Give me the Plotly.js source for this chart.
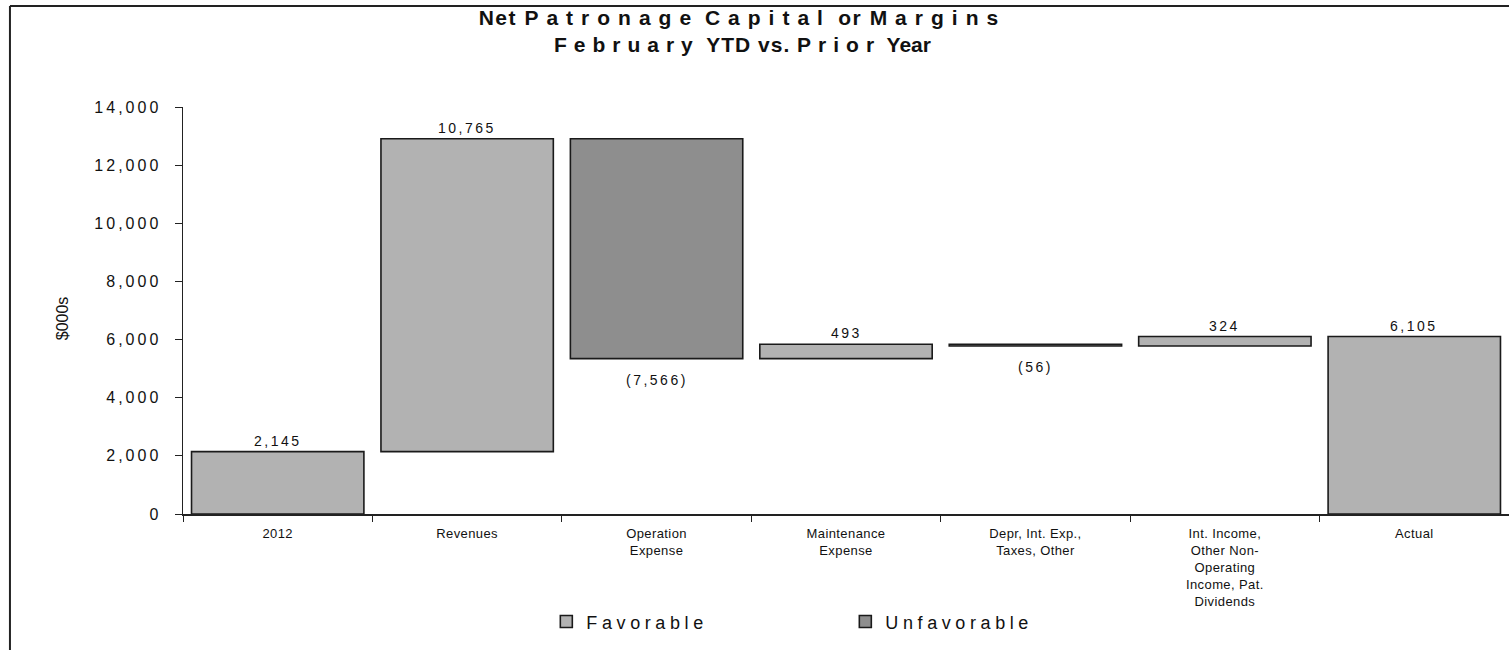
<!DOCTYPE html>
<html><head><meta charset="utf-8">
<script src="https://cdn.plot.ly/plotly-3.0.1.min.js"></script>
<style>
html,body{margin:0;padding:0;background:#fff}
#chart{width:1509px;height:650px}
.ytick text{letter-spacing:3px}
.xtick text{letter-spacing:0.4px}
.legendtext{letter-spacing:4.6px}
</style></head><body><div id="chart"></div>
<script>
// ---- data ----
const categories = ['2012', 'Revenues', 'Operation<br>Expense', 'Maintenance<br>Expense',
  'Depr, Int. Exp.,<br>Taxes, Other', 'Int. Income,<br>Other Non-<br>Operating<br>Income, Pat.<br>Dividends', 'Actual'];
const values = [2145, 10765, -7566, 493, -56, 324, 6105];
const isTotal = [true, false, false, false, false, false, true];
const seriesNames = ['Favorable', 'Unfavorable'];

// ---- build waterfall pieces ----
function fmt(v) {
  const s = Math.abs(v).toLocaleString('en-US');
  return v < 0 ? '(' + s + ')' : s;
}
let running = 0;
const bases = [], ends = [];
values.forEach((v, i) => {
  if (isTotal[i]) { bases.push(0); ends.push(v); running = v; }
  else { bases.push(running); running += v; ends.push(running); }
});
const fav = {x: [], y: [], base: []}, unf = {x: [], y: [], base: []};
values.forEach((v, i) => {
  const t = v >= 0 ? fav : unf;
  t.x.push(categories[i]); t.y.push(v); t.base.push(bases[i]);
});

const FONT = 'Liberation Sans, Arial, sans-serif';
const lineStyle = {color: '#1a1a1a', width: 1.6};
const traces = [
  {type: 'bar', name: seriesNames[0], x: fav.x, y: fav.y, base: fav.base, width: 0.91,
   marker: {color: '#b2b2b2', line: lineStyle}, hoverinfo: 'skip'},
  {type: 'bar', name: seriesNames[1], x: unf.x, y: unf.y, base: unf.base, width: 0.91,
   marker: {color: '#8e8e8e', line: lineStyle}, hoverinfo: 'skip'}
];

// data labels: x given as category index so '2012' is not read as a number
const annotations = values.map((v, i) => ({
  x: i, y: ends[i], xref: 'x', yref: 'y',
  text: '<span style="letter-spacing:2.5px">' + fmt(v) + '</span>',
  showarrow: false, yanchor: v >= 0 ? 'bottom' : 'top', yshift: v >= 0 ? 1 : -11,
  font: {family: FONT, size: 14, color: '#111'}
}));
annotations.push({
  text: '$000s', xref: 'paper', yref: 'paper', x: -0.0913, y: 0.482, xshift: -10, showarrow: false,
  textangle: -90, font: {family: 'Liberation Sans Narrow, Arial Narrow, ' + FONT, size: 16, color: '#111'}
});

const sp = (t, s) => '<span style="letter-spacing:' + s + 'px">' + t + '</span>';
const layout = {
  width: 1509, height: 650,
  paper_bgcolor: '#fff', plot_bgcolor: '#fff',
  margin: {l: 183, r: 0, t: 107, b: 136},
  font: {family: FONT, color: '#111'},
  title: {
    text: '<b>' + sp('Net ', 1.5) + sp('Patronage', 8) + ' ' + sp('Capital', 8) + sp(' or ', 1.5) + sp('Margins', 8) + '</b><br>' +
          '<b>' + sp('February', 7) + sp(' YTD vs. ', 1) + sp('Prior', 7) + ' Year</b>',
    xref: 'container', yref: 'container', x: 0.492, xanchor: 'center', y: 0.962, yanchor: 'top',
    font: {family: FONT, size: 21, color: '#111'}
  },
  barmode: 'overlay',
  showlegend: true,
  legend: {orientation: 'h', x: 0.274, xanchor: 'left', y: -0.265, yanchor: 'middle',
           font: {family: FONT, size: 18, color: '#111'}, entrywidth: 254, traceorder: 'normal'},
  xaxis: {type: 'category', categoryorder: 'array', categoryarray: categories,
          range: [-0.5, 6.5], tickson: 'boundaries', ticks: 'outside', ticklen: 6,
          tickcolor: '#222', showline: true, linecolor: '#222', linewidth: 1.5, showgrid: false,
          zeroline: false, tickfont: {family: FONT, size: 13, color: '#111'}, ticklabelstandoff: 7,
          automargin: false, fixedrange: true},
  yaxis: {range: [0, 14000], dtick: 2000, tickformat: ',d', ticks: 'outside', ticklen: 7, tickcolor: '#222',
          showline: true, linecolor: '#222', linewidth: 1.5, showgrid: false, zeroline: false,
          tickfont: {family: FONT, size: 16, color: '#111'}, ticklabelstandoff: 10, automargin: false, fixedrange: true},
  annotations: annotations,
  shapes: [
    {type: 'line', xref: 'paper', yref: 'paper', x0: -0.1305, x1: 1.0, y0: 1.2482, y1: 1.2482, line: {color: '#222', width: 2}},
    {type: 'line', xref: 'paper', yref: 'paper', x0: -0.1305, x1: -0.1305, y0: 1.2482, y1: -0.34, line: {color: '#222', width: 2}}
  ]
};
Plotly.newPlot('chart', traces, layout, {staticPlot: true, displayModeBar: false});
</script></body></html>
